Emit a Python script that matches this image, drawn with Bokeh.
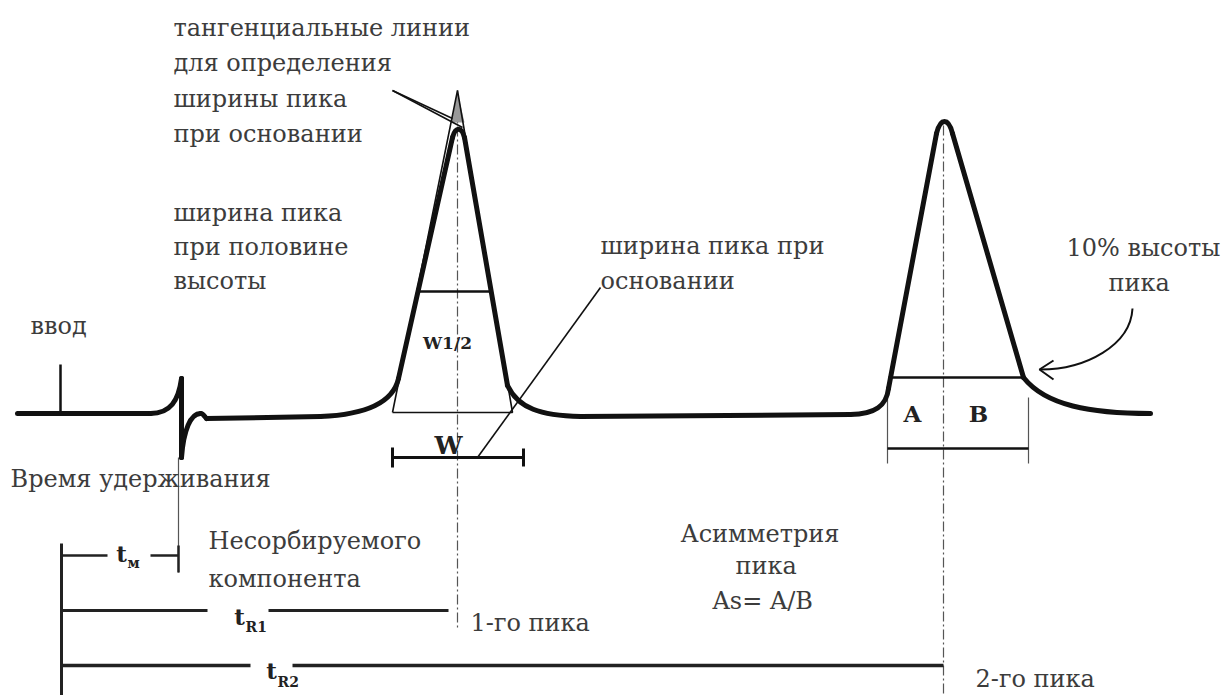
from bokeh.plotting import figure
from bokeh.models import Range1d
from bokeh.core.properties import value
from bokeh.embed import file_html
from bokeh.resources import INLINE

FONT = "DejaVu Serif"
TXT = "#3c3c3c"
INK = "#111111"

# ---- diagram geometry (reference pixel coordinates) ----
# thick chromatogram trace: straight parts
trace_seg_x0 = [17, 181, 206, 398, 464, 580, 888, 952]
trace_seg_y0 = [413, 378, 418, 378, 137, 416, 388, 133]
trace_seg_x1 = [150, 181, 320, 452, 507, 850, 936, 1023]
trace_seg_y1 = [413, 457, 416, 137, 385, 414, 133, 377]
# thick chromatogram trace: curved parts (cubic bezier)
trace_bz_x0 = [150, 181, 200, 320, 452, 507, 850, 936, 1023]
trace_bz_y0 = [413, 457, 413, 416, 137, 385, 414, 133, 377]
trace_bz_x1 = [181, 200, 206, 398, 464, 580, 888, 952, 1150]
trace_bz_y1 = [378, 413, 418, 378, 137, 416, 388, 133, 413]
trace_bz_cx0 = [170, 183, 202, 370, 455, 518, 875, 940, 1045]
trace_bz_cy0 = [413, 430, 412, 414, 126, 408, 414, 117, 405]
trace_bz_cx1 = [178, 190, 204, 393, 461, 540, 886, 948, 1090]
trace_bz_cy1 = [400, 413, 416, 400, 126, 415, 405, 117, 413]

# injection mark
inject_x = [60, 60]
inject_y = [413, 364]

# tangent lines of peak 1 and their base
tangent_x = [[392, 457, 512, 392]]
tangent_y = [[412, 90, 412, 412]]
apex_patch_x = [457, 451, 464]
apex_patch_y = [92, 122, 122]
# pointers from the tangent label
ptr_x = [[392, 452], [392, 462]]
ptr_y = [[90, 118], [90, 127]]

# half-height line, W dimension
half_x = [418, 490]
half_y = [291, 291]
wdim_x = [[392, 523], [392, 392], [523, 523]]
wdim_y = [[457, 457], [447, 467], [448, 466]]
wptr_x = [477, 600]
wptr_y = [457, 287]

# peak 2 asymmetry box
ten_x = [888, 1023]
ten_y = [377, 377]
abv_x = [[887, 887], [1028, 1028]]
abv_y = [[393, 463], [397, 463]]
abh_x = [887, 1028]
abh_y = [448, 448]
arrow_bz = dict(x0=1132, y0=308, x1=1040, y1=369, cx0=1130, cy0=345, cx1=1085, cy1=369)
arrow_head_x = [[1053, 1039, 1053]]
arrow_head_y = [[360, 369, 379]]

# center / retention verticals
center_x = [[457, 457], [943, 943]]
center_y = [[90, 628], [125, 695]]
tm_vert_x = [178, 178]
tm_vert_y = [457, 572]

# time dimension lines
dim_x = [[61, 61], [61, 107], [150, 178], [178, 178], [61, 207], [268, 448], [61, 250], [292, 943]]
dim_y = [[543, 695], [555, 555], [555, 555], [545, 572], [610, 610], [610, 610], [665, 665], [665, 665]]
dim_w = [3, 2.5, 2.5, 2.5, 3, 3, 3.5, 3.5]

# plain text labels (left aligned)
lab_text = ["тангенциальные линии", "для определения", "ширины пика", "при основании",
            "ширина пика", "при половине", "высоты", "ввод",
            "ширина пика при", "основании", "10% высоты", "пика",
            "Время удерживания", "Несорбируемого", "компонента", "1-го пика",
            "Асимметрия", "пика", "As= A/B", "2-го пика"]
lab_x = [173, 173, 173, 173, 173, 173, 173, 30,
         600, 600, 1066, 1108,
         10, 208, 208, 470,
         680, 735, 712, 975]
lab_y = [27, 62, 98, 133, 212, 246, 280, 325,
         245, 280, 247, 282,
         478, 540, 578, 622,
         533, 565, 600, 678]
lab_size = ["24px"] * 7 + ["24px"] + ["24px"] * 12

# bold symbols
sym_text = ["W1/2", "W", "A", "B", "t", "t", "t"]
sym_x = [447, 448, 912, 978, 121, 239, 271]
sym_y = [342, 445, 413, 413, 553, 616, 670]
sym_size = ["17px", "25px", "23px", "23px", "23px", "23px", "23px"]
sub_text = ["м", "R1", "R2"]
sub_x = [127, 245, 277]
sub_y = [562, 626, 681]

p = figure(width=1229, height=695, output_backend="svg", toolbar_location=None,
           x_range=Range1d(0, 1229), y_range=Range1d(695, 0), min_border=0)
p.axis.visible = False
p.grid.visible = False
p.outline_line_color = None
p.background_fill_color = "white"

# thin helper lines
p.multi_line(center_x, center_y, line_color="#555555", line_width=1.2, line_dash="10 3 2 3")
p.line(tm_vert_x, tm_vert_y, line_color="#555555", line_width=1.2)
p.multi_line(abv_x, abv_y, line_color="#555555", line_width=1.2)
p.patch(apex_patch_x, apex_patch_y, fill_color="#999999", line_color=None)
p.multi_line(tangent_x, tangent_y, line_color=INK, line_width=1.6)
p.multi_line(ptr_x, ptr_y, line_color=INK, line_width=1.6)
p.line(wptr_x, wptr_y, line_color=INK, line_width=1.6)
p.line(half_x, half_y, line_color=INK, line_width=2.5)
p.line(ten_x, ten_y, line_color=INK, line_width=2.5)
p.line(abh_x, abh_y, line_color=INK, line_width=2.5)
p.multi_line(wdim_x, wdim_y, line_color=INK, line_width=3)
for xs, ys, w in zip(dim_x, dim_y, dim_w):
    p.line(xs, ys, line_color="#222222", line_width=w)
p.line(inject_x, inject_y, line_color=INK, line_width=2.5)

# arrow
p.bezier(x0=[arrow_bz["x0"]], y0=[arrow_bz["y0"]], x1=[arrow_bz["x1"]], y1=[arrow_bz["y1"]],
         cx0=[arrow_bz["cx0"]], cy0=[arrow_bz["cy0"]], cx1=[arrow_bz["cx1"]], cy1=[arrow_bz["cy1"]],
         line_color=INK, line_width=2)
p.multi_line(arrow_head_x, arrow_head_y, line_color=INK, line_width=2)

# thick trace
p.segment(x0=trace_seg_x0, y0=trace_seg_y0, x1=trace_seg_x1, y1=trace_seg_y1,
          line_color=INK, line_width=5, line_cap="round")
p.bezier(x0=trace_bz_x0, y0=trace_bz_y0, x1=trace_bz_x1, y1=trace_bz_y1,
         cx0=trace_bz_cx0, cy0=trace_bz_cy0, cx1=trace_bz_cx1, cy1=trace_bz_cy1,
         line_color=INK, line_width=5, line_cap="round")

# text
p.text(x=lab_x, y=lab_y, text=lab_text, text_font=value(FONT), text_font_size=lab_size,
       text_color=TXT, text_align="left", text_baseline="middle")
p.text(x=sym_x, y=sym_y, text=sym_text, text_font=value(FONT), text_font_size=sym_size,
       text_font_style="bold", text_color="#222222", text_align="center", text_baseline="middle")
p.text(x=sub_x, y=sub_y, text=sub_text, text_font=value(FONT), text_font_size="14px",
       text_font_style="bold", text_color="#222222", text_align="left", text_baseline="middle")

open("out.html", "w").write(file_html(p, INLINE))
